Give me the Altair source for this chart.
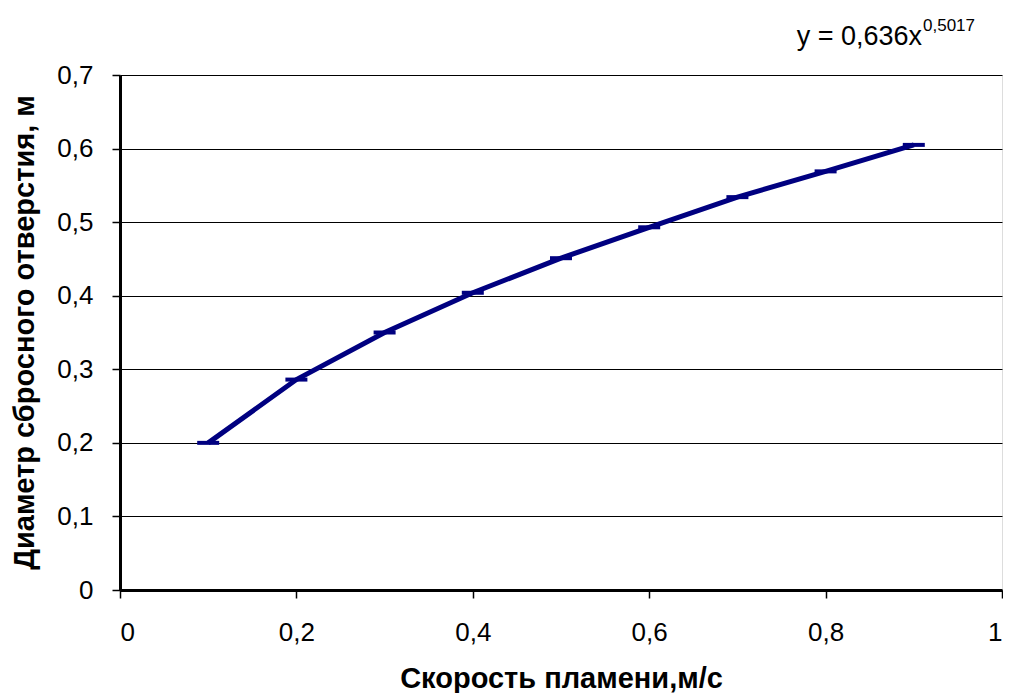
import altair as alt
import pandas as pd

speed = [0.1, 0.2, 0.3, 0.4, 0.5, 0.6, 0.7, 0.8, 0.9]
diameter = [0.200, 0.286, 0.350, 0.404, 0.451, 0.493, 0.534, 0.569, 0.605]

x_ticks = [0, 0.2, 0.4, 0.6, 0.8, 1.0]
y_ticks = [0, 0.1, 0.2, 0.3, 0.4, 0.5, 0.6, 0.7]

eq_main = "y = 0,636x"
eq_exp = "0,5017"
x_title = "Скорость пламени,м/с"
y_title = "Диаметр сбросного отверстия, м"

df = pd.DataFrame({"x": speed, "y": diameter})

FONT = "Liberation Sans"
NAVY = "#000080"
label_expr = "replace(format(datum.value, '~g'), '.', ',')"

x_enc = alt.X(
    "x:Q",
    scale=alt.Scale(domain=[0, 1], nice=False),
    axis=alt.Axis(
        values=x_ticks, labelExpr=label_expr, grid=False,
        title=x_title, titleFont=FONT, titleFontSize=29, titleFontWeight="bold",
        titleColor="black", titleY=97, titleBaseline="alphabetic",
        labelFont=FONT, labelFontSize=26, labelColor="black", labelPadding=21,
        tickSize=8, tickColor="black", tickWidth=1.5,
        domainColor="black", domainWidth=3,
    ),
)
y_enc = alt.Y(
    "y:Q",
    scale=alt.Scale(domain=[0, 0.7], nice=False),
    axis=alt.Axis(
        values=y_ticks, labelExpr=label_expr, grid=True, gridColor="black",
        gridWidth=1, gridOpacity=1,
        title=y_title, titleFont=FONT, titleFontSize=29, titleFontWeight="bold",
        titleColor="black", titleX=-110, titleY=257, titleAngle=-90,
        titleBaseline="top", titleAlign="center",
        labelFont=FONT, labelFontSize=26, labelColor="black", labelPadding=19,
        tickSize=8, tickColor="black", tickWidth=1.5,
        domainColor="black", domainWidth=3,
    ),
)

line = alt.Chart(df).mark_line(
    color=NAVY, strokeWidth=5, interpolate="linear"
).encode(x=x_enc, y=y_enc)

ticks = alt.Chart(df).mark_tick(
    color=NAVY, orient="horizontal", size=22, thickness=4, opacity=1
).encode(x="x:Q", y="y:Q")

eq1 = alt.Chart(pd.DataFrame({"t": [eq_main]})).mark_text(
    font=FONT, fontSize=27, color="black", align="right", baseline="alphabetic"
).encode(x=alt.value(802), y=alt.value(-30), text="t:N")

eq2 = alt.Chart(pd.DataFrame({"t": [eq_exp]})).mark_text(
    font=FONT, fontSize=17, color="black", align="left", baseline="alphabetic"
).encode(x=alt.value(803), y=alt.value(-44), text="t:N")

chart = alt.layer(line, ticks, eq1, eq2).properties(
    width=882, height=515,
    autosize=alt.AutoSizeParams(type="none"),
    padding={"left": 112, "top": 67, "right": 1, "bottom": 103},
).configure_view(
    stroke="black", strokeWidth=3
).configure(background="white")

chart.save("out.html", embed_options={"renderer": "svg", "actions": False})
